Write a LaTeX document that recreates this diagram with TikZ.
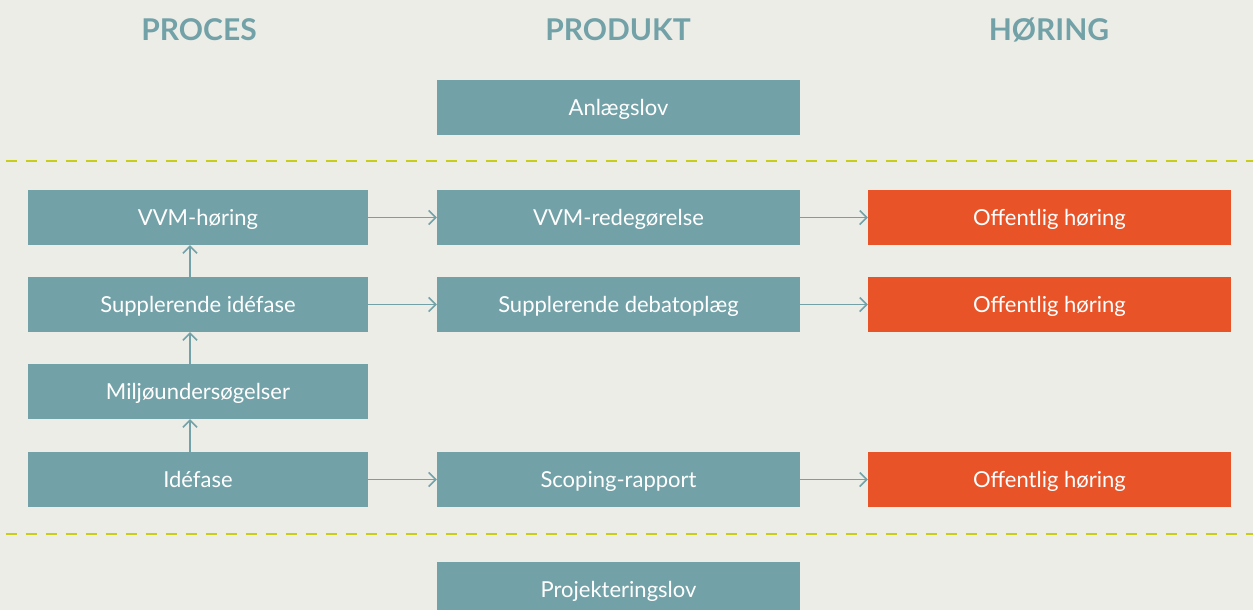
\documentclass[tikz,border=0pt]{standalone}
\usepackage{fontspec}
\setmainfont{Lato}
\usetikzlibrary{arrows.meta}
\definecolor{bgc}{HTML}{EDEDE8}
\definecolor{teal}{HTML}{72A2A8}
\definecolor{orng}{HTML}{E85428}
\definecolor{dashc}{HTML}{C8CC1A}
\tikzset{
  box/.style={fill=teal, draw=none, minimum height=55pt, inner sep=0pt, text=white, text height=20pt, text depth=4pt, font=\fontsize{22}{26}\selectfont},
  wbox/.style={box, minimum width=340pt},
  pbox/.style={box, minimum width=363pt},
  hbox/.style={box, fill=orng, minimum width=363pt},
  head/.style={text=teal, font=\fontsize{30}{34}\selectfont\bfseries},
  conn/.style={draw=teal, line width=1.5pt, -{Straight Barb[length=7pt,width=14pt,line width=1.5pt]}},
  sep/.style={draw=dashc, line width=2pt, dash pattern=on 11pt off 9pt}
}
\begin{document}
\begin{tikzpicture}[x=1pt,y=-1pt]
\fill[bgc] (0,0) rectangle (1253,610);
\useasboundingbox (0,0) rectangle (1253,610);
\node[head] (h1) at (199,30) {PROCES};
\node[head] (h2) at (618,30) {PRODUKT};
\node[head] (h3) at (1049,30) {HØRING};
\node[pbox] (anl) at (618.5,107.5) {Anlægslov};
\draw[sep] (6,161) -- (1253,161);
\draw[sep] (6,534) -- (1253,534);
\node[wbox] (vvmh) at (198,217.5) {VVM-høring};
\node[pbox] (vvmr) at (618.5,217.5) {VVM-redegørelse};
\node[hbox] (oh1) at (1049.5,217.5) {Offentlig høring};
\node[wbox] (supi) at (198,304.5) {Supplerende idéfase};
\node[pbox] (supd) at (618.5,304.5) {Supplerende debatoplæg};
\node[hbox] (oh2) at (1049.5,304.5) {Offentlig høring};
\node[wbox] (milj) at (198,391.5) {Miljøundersøgelser};
\node[wbox] (idef) at (198,479.5) {Idéfase};
\node[pbox] (scop) at (618.5,479.5) {Scoping-rapport};
\node[hbox] (oh3) at (1049.5,479.5) {Offentlig høring};
\node[pbox, anchor=north] (proj) at (618.5,562) {Projekteringslov};
\draw[conn] (vvmh) -- (vvmr);
\draw[conn] (vvmr) -- (oh1);
\draw[conn] (supi) -- (supd);
\draw[conn] (supd) -- (oh2);
\draw[conn] (idef) -- (scop);
\draw[conn] (scop) -- (oh3);
\draw[conn] (idef.north -| 190,0) -- (milj.south -| 190,0);
\draw[conn] (milj.north -| 190,0) -- (supi.south -| 190,0);
\draw[conn] (supi.north -| 190,0) -- (vvmh.south -| 190,0);
\end{tikzpicture}
\end{document}
